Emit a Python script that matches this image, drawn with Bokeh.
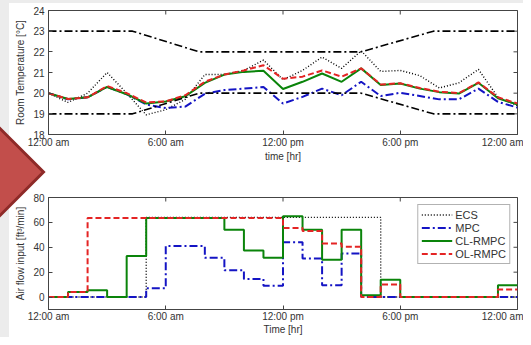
from bokeh.plotting import figure
from bokeh.models import Range1d, FixedTicker, Legend, LegendItem, GridBox, Div
from bokeh.embed import file_html
from bokeh.resources import INLINE
import math

# ---------------- data ----------------
tick_hours = [0, 6, 12, 18, 24]
tick_labels = ["12:00 am", "6:00 am", "12:00 pm", "6:00 pm", "12:00 am"]

temp_hours = [0, 1, 2, 3, 4, 5, 6, 7, 8, 9, 10, 11, 12, 13, 14, 15, 16, 17, 18, 19, 20, 21, 22, 23, 24]
ecs_temp = [20.0, 19.55, 20.0, 21.0, 20.0, 18.95, 19.2, 19.7, 20.9, 20.9, 21.1, 21.6, 20.65, 21.1, 21.75, 21.2,
            22.05, 21.05, 21.1, 20.85, 20.25, 20.5, 21.15, 19.8, 19.4]
mpc_temp = [20.0, 19.7, 19.8, 20.3, 19.95, 19.45, 19.28, 19.35, 19.97, 20.15, 20.22, 20.3, 19.5, 19.82, 20.22, 19.9,
            20.55, 19.86, 20.02, 19.86, 19.7, 19.7, 20.22, 19.58, 19.3]
cl_temp = [20.0, 19.72, 19.8, 20.3, 19.95, 19.5, 19.6, 19.85, 20.5, 20.9, 21.03, 21.08, 20.2, 20.55, 20.95, 20.55,
           21.2, 20.4, 20.47, 20.22, 20.05, 19.98, 20.5, 19.75, 19.45]
ol_temp = [20.0, 19.72, 19.8, 20.35, 20.0, 19.55, 19.6, 19.9, 20.55, 20.9, 21.1, 21.35, 20.7, 20.8, 21.1, 20.8,
           21.2, 20.42, 20.48, 20.25, 20.07, 20.0, 20.52, 19.8, 19.5]

bound_hours = [0, 4.3, 7.7, 16.0, 19.7, 24]
upper_bound = [23, 23, 22, 22, 23, 23]
lower_bound = [19, 19, 20, 20, 19, 19]

flow_hours = [0, 1, 2, 3, 4, 5, 6, 7, 8, 9, 10, 11, 12, 13, 14, 15, 16, 17, 18, 19, 20, 21, 22, 23, 24]
ecs_flow = [0, 0, 0, 0, 0, 64, 64, 64, 64, 64, 64, 64, 64, 64, 64, 64, 64, 0, 0, 0, 0, 0, 0, 0, 0]
mpc_flow = [0, 0, 0, 0, 0, 7, 41, 41, 31.5, 21.5, 14.5, 9, 44, 31, 9.5, 35, 0, 0, 0, 0, 0, 0, 0, 0, 0]
cl_flow = [0, 4, 5.5, 0, 33, 63.5, 63.5, 63.5, 63.5, 54, 37.5, 31.5, 65, 54, 30, 54, 1.5, 14, 0, 0, 0, 0, 0, 9.5, 9.5]
ol_flow = [0, 4, 63.5, 63.5, 63.5, 63.5, 63.5, 63.5, 63.5, 63.5, 63.5, 63.5, 55.5, 53, 43, 40.5, 0, 10, 0, 0, 0, 0,
           0, 6, 6]

temp_range = (18, 24)
flow_range = (-10, 80)
temp_ticks = [18, 19, 20, 21, 22, 23, 24]
flow_ticks = [0, 20, 40, 60, 80]

# decorative slide arrow (page pixels)
arrow_x = [-12, 43.5, -12]
arrow_y = [116.5, 172, 227.5]

# ---------------- style ----------------
FONT = "Liberation Sans"
TXT = "#333333"
AX = "#444444"
BLUE = "#1414c4"
GREEN = "#0a840a"
RED = "#e42424"
ARROW_FILL = "#c24e4b"
ARROW_LINE = "#8e2a28"
W, H1, H2 = 523, 164, 173


def style(p, yticks, yrange, xlabel, ylabel):
    p.grid.visible = False
    p.outline_line_color = AX
    p.background_fill_color = "white"
    p.border_fill_color = "white"
    p.xaxis.ticker = FixedTicker(ticks=tick_hours)
    p.xaxis.major_label_overrides = {h: l for h, l in zip(tick_hours, tick_labels)}
    p.yaxis.ticker = FixedTicker(ticks=yticks)
    for ax in (p.xaxis[0], p.yaxis[0]):
        ax.major_tick_in = 4
        ax.major_tick_out = 0
        ax.minor_tick_line_color = None
        ax.axis_line_color = AX
        ax.major_tick_line_color = AX
        ax.major_label_text_font = FONT
        ax.major_label_text_font_size = "10px"
        ax.major_label_text_color = TXT
        ax.axis_label_text_font = FONT
        ax.axis_label_text_font_size = "10px"
        ax.axis_label_text_font_style = "normal"
        ax.axis_label_text_color = TXT
    p.xaxis.axis_label = xlabel
    p.yaxis.axis_label = ylabel
    p.xaxis.major_label_standoff = 2
    p.xaxis.axis_label_standoff = 0
    p.yaxis.major_label_standoff = 4
    p.yaxis.axis_label_standoff = 4
    # inward ticks on the top and right edges of the box (half of each dash is clipped by the frame)
    p.scatter(tick_hours, [yrange[1]] * len(tick_hours), marker="dash", angle=math.pi / 2, size=8,
              line_color=AX, line_width=1)
    p.scatter([24] * len(yticks), yticks, marker="dash", size=8, line_color=AX, line_width=1)


# ---------------- top: temperature ----------------
p1 = figure(width=W, height=H1, output_backend="svg", toolbar_location=None,
            x_range=Range1d(0, 24), y_range=Range1d(*temp_range),
            min_border_left=48, min_border_right=6, min_border_top=10, min_border_bottom=27)
style(p1, temp_ticks, temp_range, "time [hr]", "Room Temperature [°C]")

p1.line(temp_hours, ecs_temp, line_color="black", line_width=1.4, line_dash="1 2")
p1.line(temp_hours, mpc_temp, line_color=BLUE, line_width=2, line_dash="8 3 2 3")
p1.line(temp_hours, cl_temp, line_color=GREEN, line_width=2)
p1.line(temp_hours, ol_temp, line_color=RED, line_width=2, line_dash="6 3")
p1.line(bound_hours, upper_bound, line_color="black", line_width=1.6, line_dash="8 3 2 3")
p1.line(bound_hours, lower_bound, line_color="black", line_width=1.6, line_dash="8 3 2 3")

# ---------------- bottom: air flow ----------------
p2 = figure(width=W, height=H2, output_backend="svg", toolbar_location=None,
            x_range=Range1d(0, 24), y_range=Range1d(*flow_range),
            min_border_left=48, min_border_right=6, min_border_top=33, min_border_bottom=24)
style(p2, flow_ticks, flow_range, "Time [hr]", "Air flow input [ft³/min]")
p2.xaxis.major_label_standoff = 1
p2.xaxis.axis_label_standoff = -1

r_ecs = p2.step(flow_hours, ecs_flow, mode="after", line_color="black", line_width=1.4, line_dash="1 2")
r_mpc = p2.step(flow_hours, mpc_flow, mode="after", line_color=BLUE, line_width=2, line_dash="8 3 2 3")
r_cl = p2.step(flow_hours, cl_flow, mode="after", line_color=GREEN, line_width=2)
r_ol = p2.step(flow_hours, ol_flow, mode="after", line_color=RED, line_width=2, line_dash="6 3")

legend = Legend(items=[LegendItem(label="ECS", renderers=[r_ecs]),
                       LegendItem(label="MPC", renderers=[r_mpc]),
                       LegendItem(label="CL-RMPC", renderers=[r_cl]),
                       LegendItem(label="OL-RMPC", renderers=[r_ol])],
                location="top_right", margin=7, padding=3, spacing=0,
                label_text_font=FONT, label_text_font_size="11px", label_text_color=TXT,
                label_height=13, glyph_height=13, glyph_width=31, label_standoff=3,
                border_line_color="#666666", border_line_width=1, background_fill_alpha=1)
p2.add_layout(legend)

# ---------------- transparent overlay (plain SVG shape, no text) with the slide decoration ----------------
pts = " ".join(f"{x},{y}" for x, y in zip(arrow_x, arrow_y))
svg = (f'<svg xmlns="http://www.w3.org/2000/svg" width="{W}" height="{H1 + H2}" style="display:block">'
       f'<rect x="0" y="0" width="9" height="{H1 + H2}" fill="#dcdcdc" fill-opacity="0.55"/>'
       f'<rect x="9" y="0" width="{W - 9}" height="3" fill="#dcdcdc" fill-opacity="0.55"/>'
       f'<polygon points="{pts}" fill="{ARROW_FILL}" stroke="{ARROW_LINE}" stroke-width="3"/>'
       f'</svg>')
ov = Div(text=svg, width=W, height=H1 + H2, margin=0, styles={"pointer-events": "none"})

grid = GridBox(children=[(p1, 0, 0), (p2, 1, 0), (ov, 0, 0, 2, 1)], spacing=0)
open("out.html", "w").write(file_html(grid, INLINE))
